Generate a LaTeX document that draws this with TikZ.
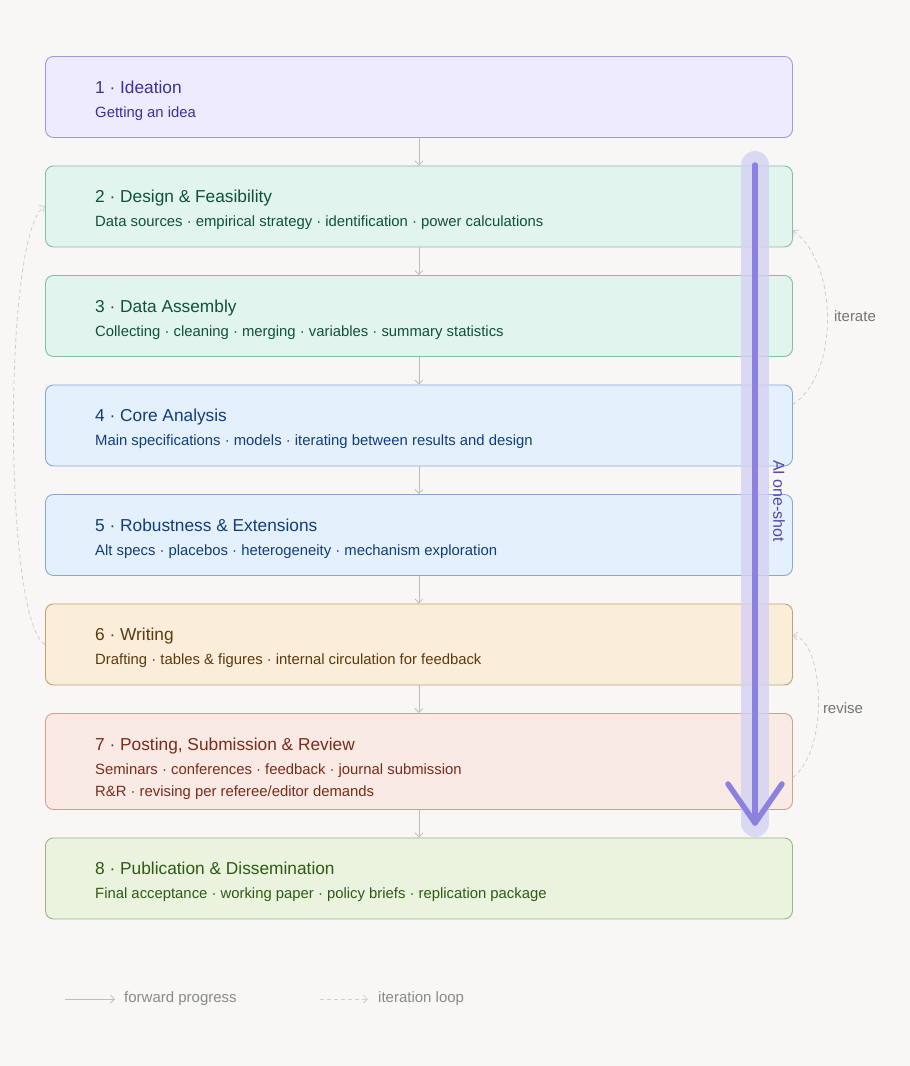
\documentclass[tikz,border=0pt]{standalone}
\usepackage{fontspec}
\setmainfont{Liberation Sans}
\usetikzlibrary{
    arrows.meta,
    positioning,
    calc,
}

\definecolor{bg}{HTML}{F8F7F5}
\definecolor{ideaFill}{HTML}{EDEBFD}
\definecolor{ideaLine}{HTML}{A098E2}
\definecolor{ideaText}{HTML}{3A3199}
\definecolor{designFill}{HTML}{E1F5EE}
\definecolor{designLine}{HTML}{84BCA4}
\definecolor{designText}{HTML}{0E5237}
\definecolor{coreFill}{HTML}{E4F0FB}
\definecolor{coreLine}{HTML}{82A9DA}
\definecolor{coreText}{HTML}{113E7C}
\definecolor{writeFill}{HTML}{FAEDDA}
\definecolor{writeLine}{HTML}{C79E72}
\definecolor{writeText}{HTML}{5C3A0D}
\definecolor{postFill}{HTML}{FAEAE6}
\definecolor{postLine}{HTML}{D69D8D}
\definecolor{postText}{HTML}{7B2B16}
\definecolor{pubFill}{HTML}{E9F3DE}
\definecolor{pubLine}{HTML}{95B980}
\definecolor{pubText}{HTML}{2F5A13}
\definecolor{flowGrey}{HTML}{BDBDBD}
\definecolor{loopGrey}{HTML}{CDCDCD}
\definecolor{noteGrey}{HTML}{747474}
\definecolor{legendGrey}{HTML}{8A8A8A}
\definecolor{aiLine}{HTML}{8A82DE}
\definecolor{aiBand}{HTML}{D4D1F3}
\definecolor{aiText}{HTML}{5046AE}

\begin{document}
\begin{tikzpicture}[
    x=1pt, y=1pt,
    node distance=27.6pt,
    phase/.style={draw, line width=0.9pt, rounded corners=8pt, minimum width=747pt, minimum height=81pt, inner sep=0pt},
    idea/.style={phase, fill=ideaFill, draw=ideaLine},
    design/.style={phase, fill=designFill, draw=designLine},
    core/.style={phase, fill=coreFill, draw=coreLine},
    writing/.style={phase, fill=writeFill, draw=writeLine},
    posting/.style={phase, fill=postFill, draw=postLine, minimum height=96pt},
    pub/.style={phase, fill=pubFill, draw=pubLine},
    title/.style={anchor=base west, inner sep=0pt, font=\fontsize{17.3}{20}\selectfont},
    detail/.style={anchor=base west, inner sep=0pt, font=\fontsize{14.85}{17}\selectfont},
    flow/.style={draw=flowGrey, line width=0.8pt, -{Straight Barb[length=4pt,width=8pt]}},
    iter/.style={draw=loopGrey, line width=0.8pt, dash pattern=on 4pt off 3pt, -{Straight Barb[length=4pt,width=8pt]}},
    note/.style={text=noteGrey, font=\fontsize{15}{17}\selectfont},
    legend/.style={text=legendGrey, anchor=west, inner sep=0pt, font=\fontsize{15}{17}\selectfont},
    aiband/.style={draw=aiBand, line width=28pt, line cap=round, opacity=0.8},
    aiarrow/.style={draw=aiLine, line width=5.5pt, line cap=round, line join=round},
]

\fill[bg] (0,0) rectangle (910,-1066);
\useasboundingbox (0,0) rectangle (910,-1066);

% phases
\node[idea, anchor=north west] (s1) at (45,-56) {};
\node[design] (s2) [below=of s1] {};
\node[design] (s3) [below=of s2] {};
\node[core] (s4) [below=of s3] {};
\node[core] (s5) [below=of s4] {};
\node[writing] (s6) [below=of s5] {};
\node[posting] (s7) [below=of s6] {};
\node[pub] (s8) [below=of s7] {};

\node[title, text=ideaText] (s1t) at ([xshift=50,yshift=-37]s1.north west) {1 · Ideation};
\node[detail, text=ideaText] (s1d) at ([xshift=50,yshift=-61]s1.north west) {Getting an idea};

\node[title, text=designText] (s2t) at ([xshift=50,yshift=-37]s2.north west) {2 · Design \& Feasibility};
\node[detail, text=designText] (s2d) at ([xshift=50,yshift=-61]s2.north west) {Data sources · empirical strategy · identification · power calculations};

\node[title, text=designText] (s3t) at ([xshift=50,yshift=-37]s3.north west) {3 · Data Assembly};
\node[detail, text=designText] (s3d) at ([xshift=50,yshift=-61]s3.north west) {Collecting · cleaning · merging · variables · summary statistics};

\node[title, text=coreText] (s4t) at ([xshift=50,yshift=-37]s4.north west) {4 · Core Analysis};
\node[detail, text=coreText] (s4d) at ([xshift=50,yshift=-61]s4.north west) {Main specifications · models · iterating between results and design};

\node[title, text=coreText] (s5t) at ([xshift=50,yshift=-37]s5.north west) {5 · Robustness \& Extensions};
\node[detail, text=coreText] (s5d) at ([xshift=50,yshift=-61]s5.north west) {Alt specs · placebos · heterogeneity · mechanism exploration};

\node[title, text=writeText] (s6t) at ([xshift=50,yshift=-37]s6.north west) {6 · Writing};
\node[detail, text=writeText] (s6d) at ([xshift=50,yshift=-61]s6.north west) {Drafting · tables \& figures · internal circulation for feedback};

\node[title, text=postText] (s7t) at ([xshift=50,yshift=-37]s7.north west) {7 · Posting, Submission \& Review};
\node[detail, text=postText] (s7d) at ([xshift=50,yshift=-61]s7.north west) {Seminars · conferences · feedback · journal submission};
\node[detail, text=postText] (s7e) at ([xshift=50,yshift=-83]s7.north west) {R\&R · revising per referee/editor demands};

\node[title, text=pubText] (s8t) at ([xshift=50,yshift=-37]s8.north west) {8 · Publication \& Dissemination};
\node[detail, text=pubText] (s8d) at ([xshift=50,yshift=-61]s8.north west) {Final acceptance · working paper · policy briefs · replication package};

% forward progress
\draw[flow] (s1) -- (s2);
\draw[flow] (s2) -- (s3);
\draw[flow] (s3) -- (s4);
\draw[flow] (s4) -- (s5);
\draw[flow] (s5) -- (s6);
\draw[flow] (s6) -- (s7);
\draw[flow] (s7) -- (s8);

% iteration loops
\draw[iter] ([yshift=21]s4.east) .. controls +(46,30) and +(46,-34) .. ([yshift=-24]s2.east);
\node[note] (iterate) at (855,-316) {iterate};

\draw[iter] ([yshift=-133]s6.east) .. controls +(38,30) and +(30,-4) .. ([yshift=9]s6.east);
\node[note] (revise) at (843,-708) {revise};

\draw[iter] (s6.west) .. controls +(-42,24) and +(-42,-24) .. (s2.west);

% AI one-shot
\coordinate (aitop) at (755,-165);
\coordinate (aibot) at (755,-823);
\coordinate (aileft) at (728,-784);
\coordinate (airight) at (782,-784);
\draw[aiband] (aitop) -- (aibot);
\draw[aiarrow] (aitop) -- (aibot);
\draw[aiarrow] (aileft) -- (aibot) -- (airight);
\node[rotate=-90, text=aiText, font=\fontsize{16}{18}\selectfont] (ailabel) at (779,-501) {AI one-shot};

% legend
\coordinate (fwdA) at (65,-999);
\coordinate (fwdB) at (115,-999);
\coordinate (loopA) at (320,-999);
\coordinate (loopB) at (368,-999);
\draw[flow] (fwdA) -- (fwdB);
\node[legend] (fwdtext) at (124,-999) {forward progress};
\draw[iter] (loopA) -- (loopB);
\node[legend] (looptext) at (378,-999) {iteration loop};

\end{tikzpicture}
\end{document}
